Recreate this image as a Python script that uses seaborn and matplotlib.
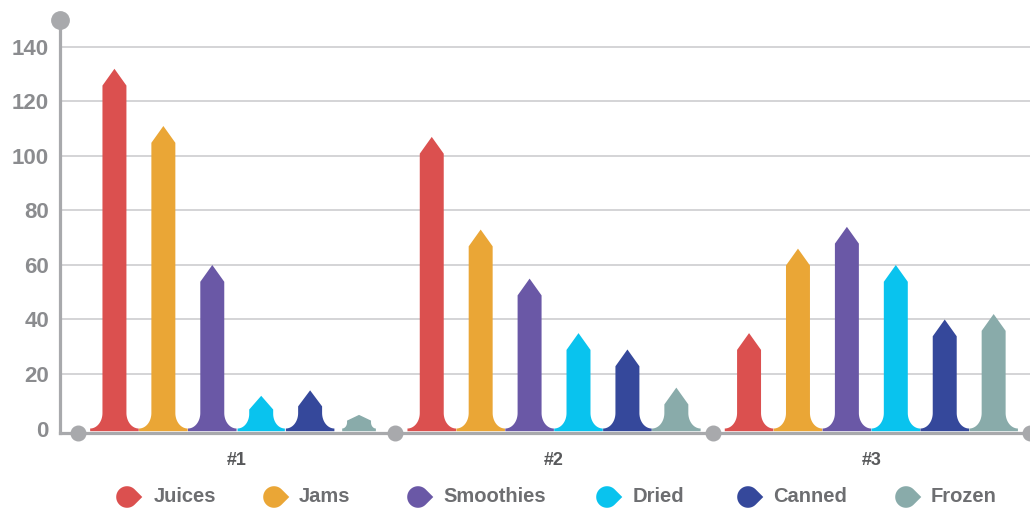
import numpy as np
import pandas as pd
import matplotlib
matplotlib.use("Agg")
import matplotlib.pyplot as plt
import seaborn as sns
from matplotlib.path import Path
from matplotlib.patches import PathPatch
from matplotlib.transforms import Affine2D

# ---- data -------------------------------------------------------------
groups = ["#1", "#2", "#3"]
products = ["Juices", "Jams", "Smoothies", "Dried", "Canned", "Frozen"]
juices = [132, 107, 35]
jams = [111, 73, 66]
smoothies = [60, 55, 74]
dried = [12, 35, 60]
canned = [14, 29, 40]
frozen = [5, 15, 42]
colors = ["#DB504F", "#EAA636", "#6A58A6", "#09C3EE", "#35489B", "#89ABAA"]
yticks = [0, 20, 40, 60, 80, 100, 120, 140]

series = [juices, jams, smoothies, dried, canned, frozen]
df = pd.DataFrame({
    "group": groups * len(products),
    "product": np.repeat(products, len(groups)),
    "value": np.concatenate(series),
})

# ---- style --------------------------------------------------------------
sns.set_style("white")
plt.rcParams["font.family"] = ["Liberation Sans", "DejaVu Sans"]
AXIS_GRAY = "#A8A9AC"
W, H = 1030, 508

fig = plt.figure(figsize=(W / 100, H / 100), dpi=100)
ax = fig.add_axes([60 / W, 75 / H, 970 / W, 413 / H])

sns.barplot(data=df, x="group", y="value", hue="product", hue_order=products,
            palette=colors, saturation=1, width=0.925, gap=0.51,
            legend=False, errorbar=None, ax=ax)

YMIN, YMAX = -1.65, 149.9
XMIN, XMAX = -0.557, 2.5
ax.set_xlim(XMIN, XMAX)
ax.set_ylim(YMIN, YMAX)

# data units per pixel
ux = (XMAX - XMIN) / 970
uy = (YMAX - YMIN) / 413


def arrow_bar(xc, w, v, color):
    """Bar with pointed head and concave flared foot."""
    head = min(16.8 * uy, 0.42 * v)
    ry = min(15.5 * uy, v - head, 0.45 * v)
    rx = 12.3 * ux * ry / (15.5 * uy)
    xl, xr = xc - w / 2, xc + w / 2
    base = YMIN * 0.6
    t_left = np.linspace(-np.pi / 2, 0, 24)
    t_right = np.linspace(np.pi, 1.5 * np.pi, 24)
    verts = [(xl - rx, base)]
    verts += list(zip(xl - rx + rx * np.cos(t_left), ry + ry * np.sin(t_left)))
    verts += [(xl, v - head), (xc, v), (xr, v - head)]
    verts += list(zip(xr + rx + rx * np.cos(t_right), ry + ry * np.sin(t_right)))
    verts += [(xr + rx, base), (xl - rx, base)]
    codes = [Path.MOVETO] + [Path.LINETO] * (len(verts) - 2) + [Path.CLOSEPOLY]
    ax.add_patch(PathPatch(Path(verts, codes), facecolor=color,
                           edgecolor="none", zorder=3))


for p in list(ax.patches):
    h = p.get_height()
    if np.isnan(h) or h <= 0:
        p.remove()
        continue
    xc = p.get_x() + p.get_width() / 2
    arrow_bar(xc, p.get_width(), h, p.get_facecolor())
    p.remove()

# ---- axes ---------------------------------------------------------------
ax.set_xlabel("")
ax.set_ylabel("")
ax.set_yticks(yticks)
ax.set_yticklabels([str(t) for t in yticks])
ax.yaxis.grid(True, color="#D4D4D6", linewidth=1.4, zorder=0)
ax.set_axisbelow(True)
ax.get_ygridlines()[0].set_visible(False)

for s in ["top", "right"]:
    ax.spines[s].set_visible(False)
for s in ["left", "bottom"]:
    ax.spines[s].set_color(AXIS_GRAY)
    ax.spines[s].set_linewidth(2.3)
    ax.spines[s].set_zorder(4)

ax.tick_params(axis="y", length=0, pad=8, labelsize=16, labelcolor="#8B8C8F")
ax.tick_params(axis="x", length=0, pad=14, labelsize=13, labelcolor="#58595B")
for lab in ax.get_yticklabels() + ax.get_xticklabels():
    lab.set_fontweight("bold")

# round knobs on the axis lines
ax.plot([-0.5, 0.5, 1.5, 2.5], [YMIN] * 4, "o", color=AXIS_GRAY, ms=10.5,
        clip_on=False, zorder=6)
ax.plot([XMIN], [YMAX], "o", color=AXIS_GRAY, ms=12.5, clip_on=False, zorder=6)

# ---- legend ---------------------------------------------------------------
# drop-shaped key: a circle that tapers to a point on its right side
tt = np.linspace(np.pi / 4, 7 * np.pi / 4, 40)
drop_verts = np.vstack([np.column_stack([np.cos(tt), np.sin(tt)]),
                        [[np.sqrt(2), 0.0], [np.cos(tt[0]), np.sin(tt[0])]]])
drop_codes = [Path.MOVETO] + [Path.LINETO] * (len(drop_verts) - 2) + [Path.CLOSEPOLY]
drop = Path(drop_verts, drop_codes)

marker_x = [127, 274, 418, 607, 748, 906]
text_x = [154, 299, 443, 633, 773, 931]
leg_y_px = H - 497
for name, col, mx, tx in zip(products, colors, marker_x, text_x):
    tr = Affine2D().scale(10.8).translate(mx, leg_y_px)
    fig.patches.append(PathPatch(drop, facecolor=col, edgecolor="none",
                                 transform=tr, figure=fig))
    fig.text(tx / W, leg_y_px / H, name, ha="left", va="center",
             fontsize=14.5, fontweight="bold", color="#6D6E71")

fig.savefig("out.png", dpi=100)
